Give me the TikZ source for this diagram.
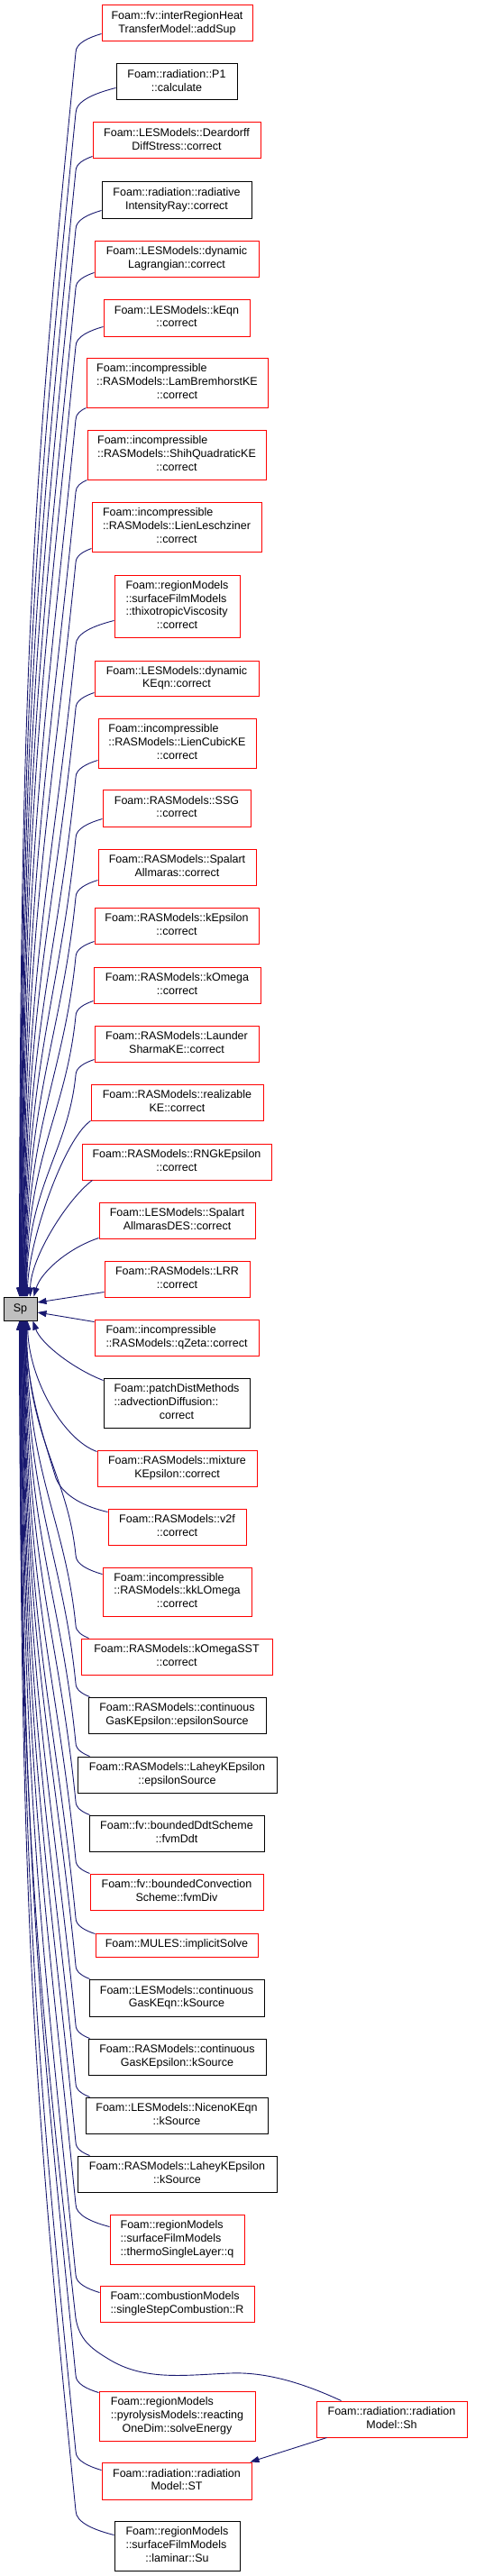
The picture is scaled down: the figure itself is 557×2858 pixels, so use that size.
\documentclass[tikz,border=0pt]{standalone}
\usepackage{fontspec}
\setmainfont{Liberation Sans}
\usetikzlibrary{arrows.meta,calc}
\definecolor{edgecol}{HTML}{191970}
\definecolor{spfill}{HTML}{BFBFBF}
\newcommand{\cl}[1]{\multicolumn{1}{@{}c@{}}{#1}}
\newcommand{\tb}[1]{\begin{tabular}{@{}l@{}}#1\end{tabular}}
\newcommand{\bx}[7]{\node[#2, minimum width={(#4-#3)*1pt}, minimum height={(#6-#5)*1pt}] (#1) at ({(#3+#4)/2},{-(#5+#6)/2}) {\tb{#7}};}
\newdimen\edx \newdimen\edy
\newcommand{\topedge}[3]{%
 \pgfextractx{\edx}{\pgfpointanchor{#1}{south west}}%
 \pgfextracty{\edy}{\pgfpointanchor{#1}{south west}}%
 \pgfmathsetmacro\Ax{\edx}%
 \pgfmathsetmacro\Ay{0-\edy-#2}%
 \pgfmathsetmacro\dr{8+0.45*(\Ax-84)}%
 \pgfmathsetmacro\Ky{\Ay+\dr}%
 \pgfmathsetmacro\DD{1439-\Ky}%
 \pgfmathsetmacro\cax{84-0.035*\DD}%
 \pgfmathsetmacro\cay{\Ky+0.35*\DD}%
 \pgfmathsetmacro\cby{1439-0.5*\DD}%
 \pgfmathsetmacro\fax{\Ax-0.5*(\Ax-84)}%
 \pgfmathsetmacro\fay{\Ay+0.2*\dr}%
 \pgfmathsetmacro\fby{\Ay+0.5*\dr}%
 \draw[calledge] ($(#1.south west)+(0,#2)$) .. controls (\fax,-\fay) and (84,-\fby) .. (84,-\Ky) .. controls (\cax,-\cay) and (#3,-\cby) .. ($(sp.north west)+(#3-4,0)$);%
}
\newcommand{\botedge}[4]{%
 \pgfextractx{\edx}{\pgfpointanchor{#1}{north west}}%
 \pgfextracty{\edy}{\pgfpointanchor{#1}{north west}}%
 \pgfmathsetmacro\Ax{\edx+#2}%
 \pgfmathsetmacro\Ay{0-\edy+#3}%
 \pgfmathsetmacro\dr{8+0.45*(\Ax-84)}%
 \pgfmathsetmacro\Ky{\Ay-\dr}%
 \pgfmathsetmacro\DD{\Ky-1465}%
 \pgfmathsetmacro\cax{84-0.035*\DD}%
 \pgfmathsetmacro\cay{\Ky-0.35*\DD}%
 \pgfmathsetmacro\cby{1465+0.5*\DD}%
 \pgfmathsetmacro\fax{\Ax-0.5*(\Ax-84)}%
 \pgfmathsetmacro\fay{\Ay-0.2*\dr}%
 \pgfmathsetmacro\fby{\Ay-0.5*\dr}%
 \draw[calledge] ($(#1.north west)+(#2,-#3)$) .. controls (\fax,-\fay) and (84,-\fby) .. (84,-\Ky) .. controls (\cax,-\cay) and (#4,-\cby) .. ($(sp.south west)+(#4-4,0)$);%
}
\tikzset{
 box/.style={draw, line width=1pt, fill=white, inner sep=0pt, font=\fontsize{12.5}{14.7}\selectfont},
 rbox/.style={box, draw=red},
 kbox/.style={box, draw=black},
 spbox/.style={box, draw=black, fill=spfill},
 calledge/.style={draw=edgecol, line width=0.9pt, -{Triangle[length=10pt,width=7pt]}}
}
\begin{document}
\begin{tikzpicture}[x=1pt,y=1pt]
\fill[white] (0,0) rectangle (557,-2858);
\useasboundingbox (0,0) rectangle (557,-2858);
% nodes
\node[spbox, minimum width=37pt, minimum height=26pt] (sp) at (22.5,-1452) {Sp};
\bx{ihm}{rbox}{113}{280}{6}{46}{\cl{Foam::fv::interRegionHeat}\\\cl{TransferModel::addSup}}
\bx{p1}{kbox}{129}{263}{71}{111}{Foam::radiation::P1\\\cl{::calculate}}
\bx{dds}{rbox}{103}{289}{136}{176}{\cl{Foam::LESModels::Deardorff}\\\cl{DiffStress::correct}}
\bx{rir}{kbox}{113}{279}{202}{242}{\cl{Foam::radiation::radiative}\\\cl{IntensityRay::correct}}
\bx{dlag}{rbox}{105}{287}{267}{307}{\cl{Foam::LESModels::dynamic}\\\cl{Lagrangian::correct}}
\bx{keqn}{rbox}{115}{277}{332}{373}{Foam::LESModels::kEqn\\\cl{::correct}}
\bx{lamb}{rbox}{96}{297}{397}{452}{Foam::incompressible\\::RASModels::LamBremhorstKE\\\cl{::correct}}
\bx{shih}{rbox}{97}{295}{477}{532}{Foam::incompressible\\::RASModels::ShihQuadraticKE\\\cl{::correct}}
\bx{lienl}{rbox}{102}{290}{557}{612}{Foam::incompressible\\::RASModels::LienLeschziner\\\cl{::correct}}
\bx{thix}{rbox}{127}{266}{638}{707}{Foam::regionModels\\::surfaceFilmModels\\::thixotropicViscosity\\\cl{::correct}}
\bx{dkeqn}{rbox}{105}{287}{733}{772}{\cl{Foam::LESModels::dynamic}\\\cl{KEqn::correct}}
\bx{lienc}{rbox}{109}{284}{797}{852}{Foam::incompressible\\::RASModels::LienCubicKE\\\cl{::correct}}
\bx{ssg}{rbox}{114}{278}{876}{917}{Foam::RASModels::SSG\\\cl{::correct}}
\bx{spal}{rbox}{109}{284}{942}{982}{\cl{Foam::RASModels::Spalart}\\\cl{Allmaras::correct}}
\bx{keps}{rbox}{105}{287}{1007}{1047}{Foam::RASModels::kEpsilon\\\cl{::correct}}
\bx{komg}{rbox}{104}{289}{1073}{1113}{Foam::RASModels::kOmega\\\cl{::correct}}
\bx{laun}{rbox}{105}{287}{1138}{1178}{\cl{Foam::RASModels::Launder}\\\cl{SharmaKE::correct}}
\bx{real}{rbox}{101}{292}{1203}{1243}{\cl{Foam::RASModels::realizable}\\\cl{KE::correct}}
\bx{rng}{rbox}{91}{301}{1269}{1309}{Foam::RASModels::RNGkEpsilon\\\cl{::correct}}
\bx{sades}{rbox}{110}{283}{1334}{1374}{\cl{Foam::LESModels::Spalart}\\\cl{AllmarasDES::correct}}
\bx{lrr}{rbox}{116}{277}{1399}{1439}{Foam::RASModels::LRR\\\cl{::correct}}
\bx{qzeta}{rbox}{105}{287}{1464}{1504}{Foam::incompressible\\\cl{::RASModels::qZeta::correct}}
\bx{adv}{kbox}{115}{277}{1529}{1584}{Foam::patchDistMethods\\::advectionDiffusion::\\\cl{correct}}
\bx{mix}{rbox}{108}{285}{1609}{1649}{\cl{Foam::RASModels::mixture}\\\cl{KEpsilon::correct}}
\bx{v2f}{rbox}{120}{273}{1674}{1714}{Foam::RASModels::v2f\\\cl{::correct}}
\bx{kkl}{rbox}{114}{279}{1739}{1793}{Foam::incompressible\\::RASModels::kkLOmega\\\cl{::correct}}
\bx{sst}{rbox}{90}{302}{1818}{1858}{Foam::RASModels::kOmegaSST\\\cl{::correct}}
\bx{cgkeE}{kbox}{98}{295}{1883}{1923}{\cl{Foam::RASModels::continuous}\\\cl{GasKEpsilon::epsilonSource}}
\bx{laheyE}{kbox}{86}{307}{1949}{1989}{Foam::RASModels::LaheyKEpsilon\\\cl{::epsilonSource}}
\bx{bddt}{kbox}{99}{293}{2014}{2054}{Foam::fv::boundedDdtScheme\\\cl{::fvmDdt}}
\bx{bconv}{rbox}{100}{292}{2079}{2119}{\cl{Foam::fv::boundedConvection}\\\cl{Scheme::fvmDiv}}
\bx{mules}{rbox}{106}{286}{2145}{2171}{\cl{Foam::MULES::implicitSolve}}
\bx{cgkeqn}{kbox}{99}{293}{2196}{2237}{\cl{Foam::LESModels::continuous}\\\cl{GasKEqn::kSource}}
\bx{cgkeK}{kbox}{98}{295}{2262}{2302}{\cl{Foam::RASModels::continuous}\\\cl{GasKEpsilon::kSource}}
\bx{niceno}{kbox}{95}{297}{2327}{2367}{Foam::LESModels::NicenoKEqn\\\cl{::kSource}}
\bx{laheyK}{kbox}{86}{307}{2392}{2432}{Foam::RASModels::LaheyKEpsilon\\\cl{::kSource}}
\bx{thermo}{rbox}{122}{271}{2457}{2512}{Foam::regionModels\\::surfaceFilmModels\\\cl{::thermoSingleLayer::q}}
\bx{ssc}{rbox}{111}{282}{2536}{2576}{Foam::combustionModels\\\cl{::singleStepCombustion::R}}
\bx{pyro}{rbox}{110}{283}{2653}{2708}{Foam::regionModels\\::pyrolysisModels::reacting\\\cl{OneDim::solveEnergy}}
\bx{st}{rbox}{113}{279}{2732}{2773}{\cl{Foam::radiation::radiation}\\\cl{Model::ST}}
\bx{su}{kbox}{127}{266}{2797}{2852}{Foam::regionModels\\::surfaceFilmModels\\\cl{::laminar::Su}}
\bx{sh}{rbox}{351}{518}{2664}{2704}{\cl{Foam::radiation::radiation}\\\cl{Model::Sh}}
% edges from callers above Sp
\topedge{ihm}{9}{22}
\topedge{p1}{14}{22.5}
\topedge{dds}{3}{23}
\topedge{rir}{9}{23.5}
\topedge{dlag}{5}{24}
\topedge{keqn}{11}{24.5}
\topedge{lamb}{0}{25}
\topedge{shih}{0}{25.5}
\topedge{lienl}{4}{26}
\topedge{thix}{19}{26.5}
\topedge{dkeqn}{4}{27}
\topedge{lienc}{9}{27.5}
\topedge{ssg}{9}{28}
\topedge{spal}{6}{28.5}
\topedge{keps}{3}{29}
\topedge{komg}{3}{29.5}
\topedge{laun}{3}{30}
\draw[calledge] (real.south west) .. controls (70,-1265) and (31,-1380) .. ($(sp.north west)+(27,0)$);
\draw[calledge] ($(rng.south west)+(12,0)$) .. controls (75,-1330) and (34,-1395) .. ($(sp.north west)+(30,0)$);
\draw[calledge] ($(sades.south west)+(0,1)$) .. controls (75,-1385) and (45,-1412) .. ($(sp.north west)+(34,0)$);
\draw[calledge] ($(lrr.south west)+(0,6)$) -- ($(sp.east)+(0,7)$);
% edges from callers below Sp
\draw[calledge] ($(qzeta.north west)+(0,-3)$) -- ($(sp.east)+(0,-4)$);
\draw[calledge] ($(adv.north west)+(0,-3)$) .. controls (80,-1518) and (45,-1490) .. ($(sp.south west)+(33,0)$);
\draw[calledge] ($(mix.north west)+(0,-2)$) .. controls (70,-1597) and (32,-1530) .. ($(sp.south west)+(27,0)$);
\draw[calledge] ($(v2f.north west)+(0,-4)$) .. controls (95,-1672) and (70,-1660) .. (62,-1640) .. controls (50,-1600) and (29,-1540) .. ($(sp.south west)+(25,0)$);
\botedge{kkl}{0}{8}{30}
\botedge{sst}{9}{0}{29.5}
\botedge{cgkeE}{2}{0}{29}
\botedge{laheyE}{14}{0}{28.5}
\botedge{bddt}{1}{0}{28}
\botedge{bconv}{0}{0}{27.5}
\botedge{mules}{0}{1}{27}
\botedge{cgkeqn}{1}{0}{26.5}
\botedge{cgkeK}{2}{0}{26}
\botedge{niceno}{5}{0}{25.5}
\botedge{laheyK}{14}{0}{25}
\botedge{thermo}{0}{14}{24.5}
\botedge{ssc}{0}{8}{24}
\botedge{pyro}{0}{2}{23.5}
\botedge{st}{0}{9}{23}
\botedge{su}{0}{16}{22.5}
\draw[calledge] ($(sh.north west)+(28,0)$) .. controls (345,-2648) and (300,-2631) .. (255,-2633) .. controls (205,-2635) and (160,-2642) .. (120,-2617) .. controls (100,-2605) and (88,-2595) .. (84,-2572) .. controls (40,-2180) and (22,-2000) .. ($(sp.south west)+(18,0)$);
\draw[calledge] ($(sh.south west)+(12,0)$) -- ($(st.north east)+(-2,0)$);
\end{tikzpicture}
\end{document}
